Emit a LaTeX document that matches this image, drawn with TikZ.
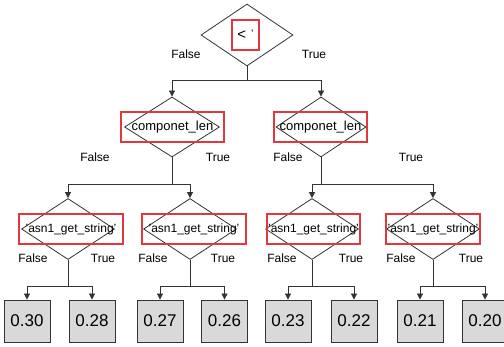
\documentclass[tikz,border=0pt]{standalone}
\usepackage{fontspec}
\setmainfont{Liberation Sans}
\usetikzlibrary{shapes.geometric,arrows.meta}
\definecolor{lnc}{HTML}{333333}
\definecolor{redc}{HTML}{E0383C}
\definecolor{boxc}{HTML}{D9D9D9}
\tikzset{
  dia/.style={diamond,draw=lnc,line width=0.8pt,inner sep=0pt,minimum width=93pt,minimum height=61pt},
  redbox/.style={draw=redc,line width=1.6pt,inner sep=0pt,minimum height=30pt,font=\fontsize{12}{12}\selectfont},
  leaf/.style={draw=lnc,fill=boxc,line width=0.8pt,minimum width=46pt,minimum height=42pt,inner sep=0pt,font=\fontsize{17}{17}\selectfont},
  lab/.style={font=\fontsize{12}{12}\selectfont,inner sep=0pt},
  conn/.style={draw=lnc,line width=0.8pt},
  arr/.style={conn,-{Triangle[length=6pt,width=6pt]}}
}
\begin{document}
\begin{tikzpicture}[x=1pt,y=-1pt]
\useasboundingbox (0,0) rectangle (504,347);
\begin{scope}
\clip (0,0) rectangle (504,347);
% root
\node[dia,minimum width=92pt,minimum height=62pt] (r) at (247,35) {};
\node[redbox,minimum width=27pt,font=\fontsize{15}{15}\selectfont] (rt) at (245.5,35) {<\hspace{5pt}\raisebox{2pt}{\fontsize{11}{11}\selectfont'}};
\node[lab] (rf) at (186,54) {False};
\node[lab] (rtl) at (314,54) {True};
% level 2
\node[dia,minimum width=95pt,minimum height=60pt] (a) at (172,127) {};
\node[redbox,minimum width=103pt,font=\fontsize{13}{13}\selectfont] (at) at (172.5,127) {componet\_len};
\node[lab] (af) at (95,157) {False};
\node[lab] (atl) at (218,157) {True};
\node[dia,minimum width=90pt,minimum height=60pt] (b) at (321,127) {};
\node[redbox,minimum width=93pt,font=\fontsize{13}{13}\selectfont] (bt) at (320.5,127) {componet\_len};
\node[lab] (bf) at (288,157) {False};
\node[lab] (btl) at (411,157) {True};
% level 3
\node[dia] (c1) at (68,229) {};
\node[redbox,minimum width=104pt] (c1t) at (71,229) {'asn1\_get\_string'};
\node[dia] (c2) at (190,229) {};
\node[redbox,minimum width=104pt] (c2t) at (194,229) {'asn1\_get\_string'};
\node[dia] (c3) at (312,229) {};
\node[redbox,minimum width=93pt] (c3t) at (313.5,229) {'asn1\_get\_string'};
\node[dia] (c4) at (433,229) {};
\node[redbox,minimum width=94pt] (c4t) at (433,229) {'asn1\_get\_string'};
\foreach \n/\fx/\tx in {c1/33/103, c2/153/223, c3/282/351, c4/401/471}{
  \node[lab] (\n f) at (\fx,258) {False};
  \node[lab] (\n tr) at (\tx,258) {True};
}
% leaves
\node[leaf] (l1) at (27,321) {0.30};
\node[leaf] (l2) at (92,321) {0.28};
\node[leaf] (l3) at (160,321) {0.27};
\node[leaf] (l4) at (224.5,321) {0.26};
\node[leaf] (l5) at (288,321) {0.23};
\node[leaf] (l6) at (354,321) {0.22};
\node[leaf] (l7) at (420,321) {0.21};
\node[leaf] (l8) at (485,321) {0.20};
% connectors
\draw[conn] (r.south) -- ++(0,14) coordinate (rj);
\draw[arr] (rj) -| (a.north);
\draw[arr] (rj) -| (b.north);
\draw[conn] (a.south) -- ++(0,27) coordinate (aj);
\draw[arr] (aj) -| (c1.north);
\draw[arr] (aj) -| (c2.north);
\draw[conn] (b.south) -- ++(0,27) coordinate (bj);
\draw[arr] (bj) -| (c3.north);
\draw[arr] (bj) -| (c4.north);
\foreach \n/\p/\q in {c1/l1/l2, c2/l3/l4, c3/l5/l6, c4/l7/l8}{
  \draw[conn] (\n.south) -- ++(0,27) coordinate (\n j);
  \draw[arr] (\n j) -| (\p.north);
  \draw[arr] (\n j) -| (\q.north);
}
\end{scope}
\end{tikzpicture}
\end{document}
